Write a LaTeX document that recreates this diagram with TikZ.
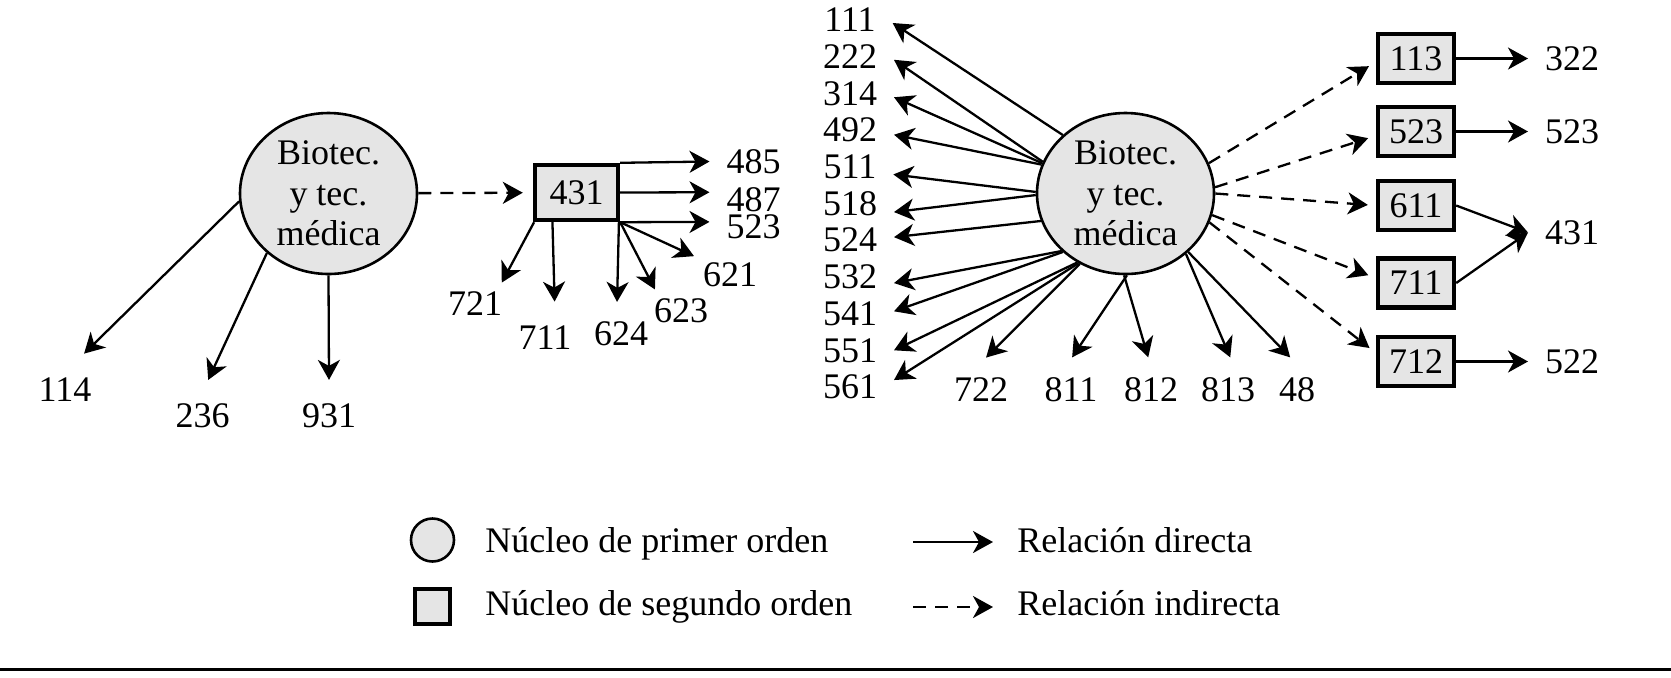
\documentclass[tikz,border=0pt]{standalone}
\usepackage{fontspec}
\setmainfont{Liberation Serif}
\usetikzlibrary{shapes.geometric,arrows.meta}

\begin{document}
\begin{tikzpicture}[
  x=0.5pt, y=-0.5pt,
  every node/.style={font=\fontsize{18}{20.25}\selectfont},
  core/.style={draw, ellipse, fill=black!10, line width=1.3pt, minimum width=88.5pt, minimum height=80.5pt, inner sep=0pt, align=center},
  subcore/.style={draw, rectangle, fill=black!10, line width=2.2pt, minimum width=38pt, minimum height=24.5pt, inner sep=0pt},
  num/.style={inner sep=0pt, outer xsep=8.5pt, outer ysep=10pt},
  numfar/.style={num, outer ysep=12pt},
  numnear/.style={inner sep=0pt, outer sep=4.5pt},
  key/.style={anchor=base west, inner sep=0pt},
  dirrel/.style={line width=1.15pt, -{Stealth[length=10pt,width=11pt,inset=3pt]}},
  indrel/.style={dirrel, dash pattern=on 6.5pt off 4.5pt, shorten >=4pt}
]
\useasboundingbox (0,0) rectangle (1671,677);

\node[core] (c1) at (328.5,193.5) {Biotec.\\y tec.\\médica};
\node[subcore, minimum width=41.5pt, minimum height=27.5pt] (b431) at (576.5,192.5) {431};
\node[numfar] (n114) at (65,389.5) {114};
\node[numfar] (n236) at (202.5,416) {236};
\node[numfar] (n931) at (329,416) {931};
\draw[dirrel] (c1.185) -- (n114.62);
\draw[dirrel] (c1.224) -- (n236.81);
\draw[dirrel] (c1.270) -- (n931.north);
\draw[indrel, shorten >=5pt] (c1) -- (b431);

\node[num] (n485) at (753.5,161.5) {485};
\node[num] (n487) at (753.5,200) {487};
\node[num] (n523a) at (753.5,226.5) {523};
\node[numnear] (n721) at (475,303.5) {721};
\node[numfar] (n711) at (545,337.5) {711};
\node[num] (n624) at (621,334) {624};
\node[numnear] (n623) at (681,310.5) {623};
\node[numnear] (n621) at (730,274.5) {621};
\draw[dirrel] (b431.north east) -- (n485.west);
\draw[dirrel] (b431.east) -- (n487.170);
\draw[dirrel] (b431.south east) -- (n523a.174);
\draw[dirrel] (b431.215) -- (n721.38);
\draw[dirrel] (b431.231) -- (n711.75);
\draw[dirrel] (b431.325) -- (n624.97);
\draw[dirrel] (b431.south east) -- (n623.141);
\draw[dirrel] (b431.south east) -- (n621.153);

\node[core] (c2) at (1125.5,193.5) {Biotec.\\y tec.\\médica};
\node[num] (n111) at (850,20) {111};
\node[num] (n222) at (850,56.7) {222};
\node[num] (n314) at (850,93.4) {314};
\node[num] (n492) at (850,130.1) {492};
\node[num] (n511) at (850,166.8) {511};
\node[num] (n518) at (850,203.5) {518};
\node[num] (n524) at (850,240.2) {524};
\node[num] (n532) at (850,276.9) {532};
\node[num] (n541) at (850,313.6) {541};
\node[num] (n551) at (850,350.3) {551};
\node[num] (n561) at (850,387) {561};
\node[num] (n722) at (981,389.5) {722};
\node[num] (n811) at (1071,389.5) {811};
\node[num] (n812) at (1151,389.5) {812};
\node[num] (n813) at (1228,389.5) {813};
\node[num] (n48) at (1297,389.5) {48};
\draw[dirrel] (c2.137) -- (n111.356);
\draw[dirrel] (c2.159) -- (n222.356);
\draw[dirrel] (c2.160) -- (n314.355);
\draw[dirrel] (c2.161) -- (n492.354);
\draw[dirrel] (c2.179) -- (n511.350);
\draw[dirrel] (c2.181) -- (n518.349);
\draw[dirrel] (c2.198) -- (n524.4);
\draw[dirrel] (c2.222) -- (n532.352);
\draw[dirrel] (c2.223) -- (n541.3);
\draw[dirrel] (c2.235) -- (n551.east);
\draw[dirrel] (c2.236) -- (n561.9);
\draw[dirrel] (c2.237) -- (n722.81);
\draw[dirrel] (c2.271) -- (n811.88);
\draw[dirrel] (c2.269) -- (n812.95);
\draw[dirrel] (c2.315) -- (n813.86);
\draw[dirrel] (c2.317) -- (n48.102);

\node[subcore] (b113) at (1416,58.5) {113};
\node[subcore] (b523) at (1416,131.5) {523};
\node[subcore] (b611) at (1416,205.5) {611};
\node[subcore] (b711) at (1416,283) {711};
\node[subcore] (b712) at (1416,361.5) {712};
\node[num] (n322) at (1572,58.5) {322};
\node[num] (n523b) at (1572,131.5) {523};
\node[num] (r431) at (1572,232.5) {431};
\node[num] (n522) at (1572,361.5) {522};
\draw[indrel] (c2.20) -- (b113.185);
\draw[indrel] (c2.4) -- (b523.186);
\draw[indrel] (c2.0) -- (b611.west);
\draw[indrel] (c2.346) -- (b711.173);
\draw[indrel] (c2.341) -- (b712.168);
\draw[dirrel] (b113) -- (n322);
\draw[dirrel] (b523) -- (n523b);
\draw[dirrel] (b611.east) -- (r431.west);
\draw[dirrel] (b711.east) -- (r431.west);
\draw[dirrel] (b712) -- (n522);

\node[draw, circle, fill=black!10, line width=1.3pt, minimum size=21.5pt, inner sep=0pt] (kc) at (432.5,540) {};
\node[subcore, minimum width=17.5pt, minimum height=17.5pt] (ks) at (432.5,606.5) {};
\node[key] (kt1) at (485,552) {Núcleo de primer orden};
\node[key] (kt2) at (485,615) {Núcleo de segundo orden};
\coordinate (ka) at (913,542);
\coordinate (kb) at (913,607);
\draw[dirrel] (ka) -- ++(80,0);
\draw[indrel, shorten >=0pt] (kb) -- ++(80,0);
\node[key] (kt3) at (1017,552) {Relación directa};
\node[key] (kt4) at (1017,615) {Relación indirecta};
\draw[line width=1.5pt] (0,669.5) -- (1671,669.5);
\end{tikzpicture}
\end{document}
